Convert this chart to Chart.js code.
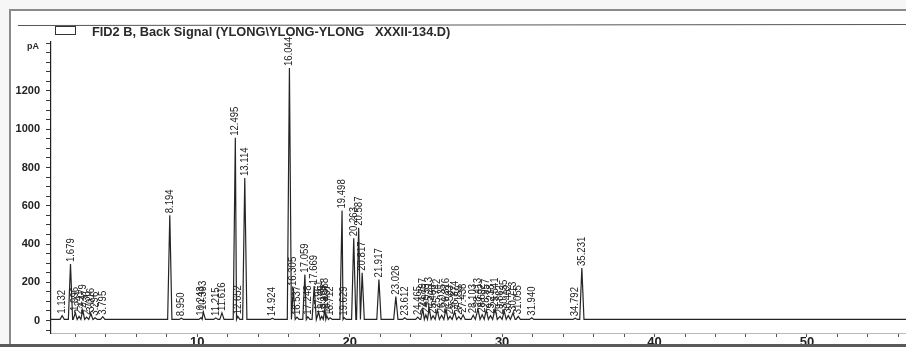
<!DOCTYPE html>
<html>
<head>
<meta charset="utf-8">
<script src="https://cdn.jsdelivr.net/npm/chart.js@4.4.0/dist/chart.umd.min.js"></script>
<style>
html, body { margin: 0; padding: 0; background: #fff; overflow: hidden; }
#wrap { position: relative; width: 906px; height: 347px; overflow: hidden; background: #f6f6f6; }
#paper { position: absolute; left: 9px; top: 9px; width: 910px; height: 350px; background: #fff; border-left: 2px solid #8a8a8a; border-top: 2px solid #8a8a8a; }
#edge { position: absolute; left: 0; right: 0; top: 344px; height: 3px; background: #5a5a5a; }
canvas { position: absolute; left: 0; top: 0; }
</style>
</head>
<body>
<div id="wrap">
  <div id="paper"></div>
  <canvas id="chromChart" width="906" height="356"></canvas>
  <div id="edge"></div>
</div>
<script>
// peak table (retention time in min, height in pA)
const retentionTimes = [
  1.132, 1.679, 1.996, 2.241, 2.479, 2.736, 3.016, 3.296, 3.795,
  8.194, 8.950, 10.243, 10.393, 11.215, 11.616, 12.495, 12.652, 13.114,
  14.924, 16.044, 16.305, 16.537, 17.059, 17.248, 17.669,
  17.961, 18.165, 18.368, 18.497, 18.712, 19.498, 19.629,
  20.263, 20.587, 20.817, 21.917, 23.026, 23.612,
  24.465, 24.797, 24.995, 25.213, 25.468, 25.742, 26.035, 26.316, 26.583, 26.874, 27.159, 27.438,
  28.103, 28.413, 28.692, 28.957, 29.238, 29.541, 29.862, 30.135, 30.402, 30.713, 31.055,
  31.940, 34.792, 35.231
];
const peakHeights = [
  25, 295, 40, 22, 55, 18, 35, 15, 20,
  550, 12, 15, 45, 14, 40, 955, 22, 745,
  12, 1320, 170, 18, 240, 20, 180,
  45, 22, 60, 25, 15, 575, 15,
  430, 485, 250, 215, 125, 15,
  18, 60, 30, 65, 25, 55, 28, 60, 22, 45, 20, 30,
  28, 60, 30, 55, 25, 62, 22, 50, 26, 40, 22,
  15, 12, 275
];
const baseline = 6;

const xLabelTicks = [10, 20, 30, 40, 50];
const yLabelTicks = [0, 200, 400, 600, 800, 1000, 1200];

const signalTitle = 'FID2 B, Back Signal (YLONG\\YLONG-YLONG   XXXII-134.D)';
const yUnit = 'pA';

// trace: narrow peaks on a flat baseline
const signal = [{ x: 0.4, y: baseline }];
retentionTimes.forEach((t, i) => {
  const prev = i > 0 ? retentionTimes[i - 1] : 0;
  const next = i < retentionTimes.length - 1 ? retentionTimes[i + 1] : 60;
  const foot = 0.14;
  signal.push({ x: Math.max(t - foot, (prev + t) / 2), y: baseline });
  signal.push({ x: t, y: peakHeights[i] });
  signal.push({ x: Math.min(t + foot, (t + next) / 2), y: baseline });
});
signal.push({ x: 56.5, y: baseline });

const peakLabels = {
  id: 'peakLabels',
  afterDatasetsDraw(chart) {
    const { ctx, scales: { x, y } } = chart;
    ctx.save();
    ctx.fillStyle = '#222';
    ctx.font = '11px "Liberation Sans", Arial, sans-serif';
    ctx.textAlign = 'left';
    ctx.textBaseline = 'middle';
    retentionTimes.forEach((t, i) => {
      const px = x.getPixelForValue(t);
      const py = y.getPixelForValue(peakHeights[i]) - 2;
      ctx.save();
      ctx.translate(px, py);
      ctx.rotate(-Math.PI / 2);
      ctx.scale(0.87, 1);
      ctx.fillText(t.toFixed(3), 0, 0);
      ctx.restore();
    });
    ctx.restore();
  }
};

const header = {
  id: 'header',
  afterDraw(chart) {
    const { ctx } = chart;
    ctx.save();
    ctx.strokeStyle = '#555';
    ctx.lineWidth = 1;
    ctx.beginPath();
    ctx.moveTo(18, 25.5);
    ctx.lineTo(906, 24.5);
    ctx.stroke();
    ctx.strokeStyle = '#333';
    ctx.strokeRect(55.5, 26.5, 20, 8);
    ctx.fillStyle = '#2a2a2a';
    ctx.font = 'bold 12.8px "Liberation Sans", Arial, sans-serif';
    ctx.textBaseline = 'middle';
    ctx.fillText(signalTitle, 92, 32);
    ctx.font = 'bold 9px "Liberation Sans", Arial, sans-serif';
    ctx.textAlign = 'right';
    ctx.fillText(yUnit, 39, 47);
    ctx.restore();
  }
};

const ctx = document.getElementById('chromChart');
new Chart(ctx, {
  type: 'line',
  data: {
    datasets: [{
      label: signalTitle,
      data: signal,
      borderColor: '#242424',
      borderWidth: 1.2,
      pointRadius: 0,
      tension: 0,
      fill: false
    }]
  },
  options: {
    responsive: false,
    animation: false,
    layout: { padding: { top: 42, left: 0, right: 0, bottom: 0 } },
    plugins: {
      legend: { display: false },
      tooltip: { enabled: false }
    },
    scales: {
      x: {
        type: 'linear',
        min: 0.4,
        max: 56.5,
        afterBuildTicks: scale => {
          const ticks = [];
          for (let v = 2; v <= 56; v += 2) ticks.push({ value: v });
          scale.ticks = ticks;
        },
        afterFit: scale => { scale.height = 23; },
        grid: { drawOnChartArea: false, tickLength: 4, color: '#555' },
        border: { color: '#bbb', width: 1, dash: [2, 3] },
        ticks: {
          autoSkip: false,
          maxRotation: 0,
          padding: -2,
          color: '#222',
          font: { family: '"Liberation Sans", Arial, sans-serif', size: 13, weight: 'bold' },
          callback: v => xLabelTicks.includes(v) ? String(v) : ''
        }
      },
      y: {
        min: -65,
        max: 1456,
        afterBuildTicks: scale => {
          const ticks = [];
          for (let v = -50; v <= 1450; v += 50) ticks.push({ value: v });
          scale.ticks = ticks;
        },
        afterFit: scale => { scale.width = 51; },
        grid: { drawOnChartArea: false, tickLength: 5, color: '#333' },
        border: { color: '#222', width: 1.2 },
        ticks: {
          autoSkip: false,
          padding: 6,
          color: '#222',
          font: { family: '"Liberation Sans", Arial, sans-serif', size: 11, weight: 'bold' },
          callback: v => yLabelTicks.includes(v) ? String(v) : ''
        }
      }
    }
  },
  plugins: [peakLabels, header]
});
</script>
</body>
</html>
